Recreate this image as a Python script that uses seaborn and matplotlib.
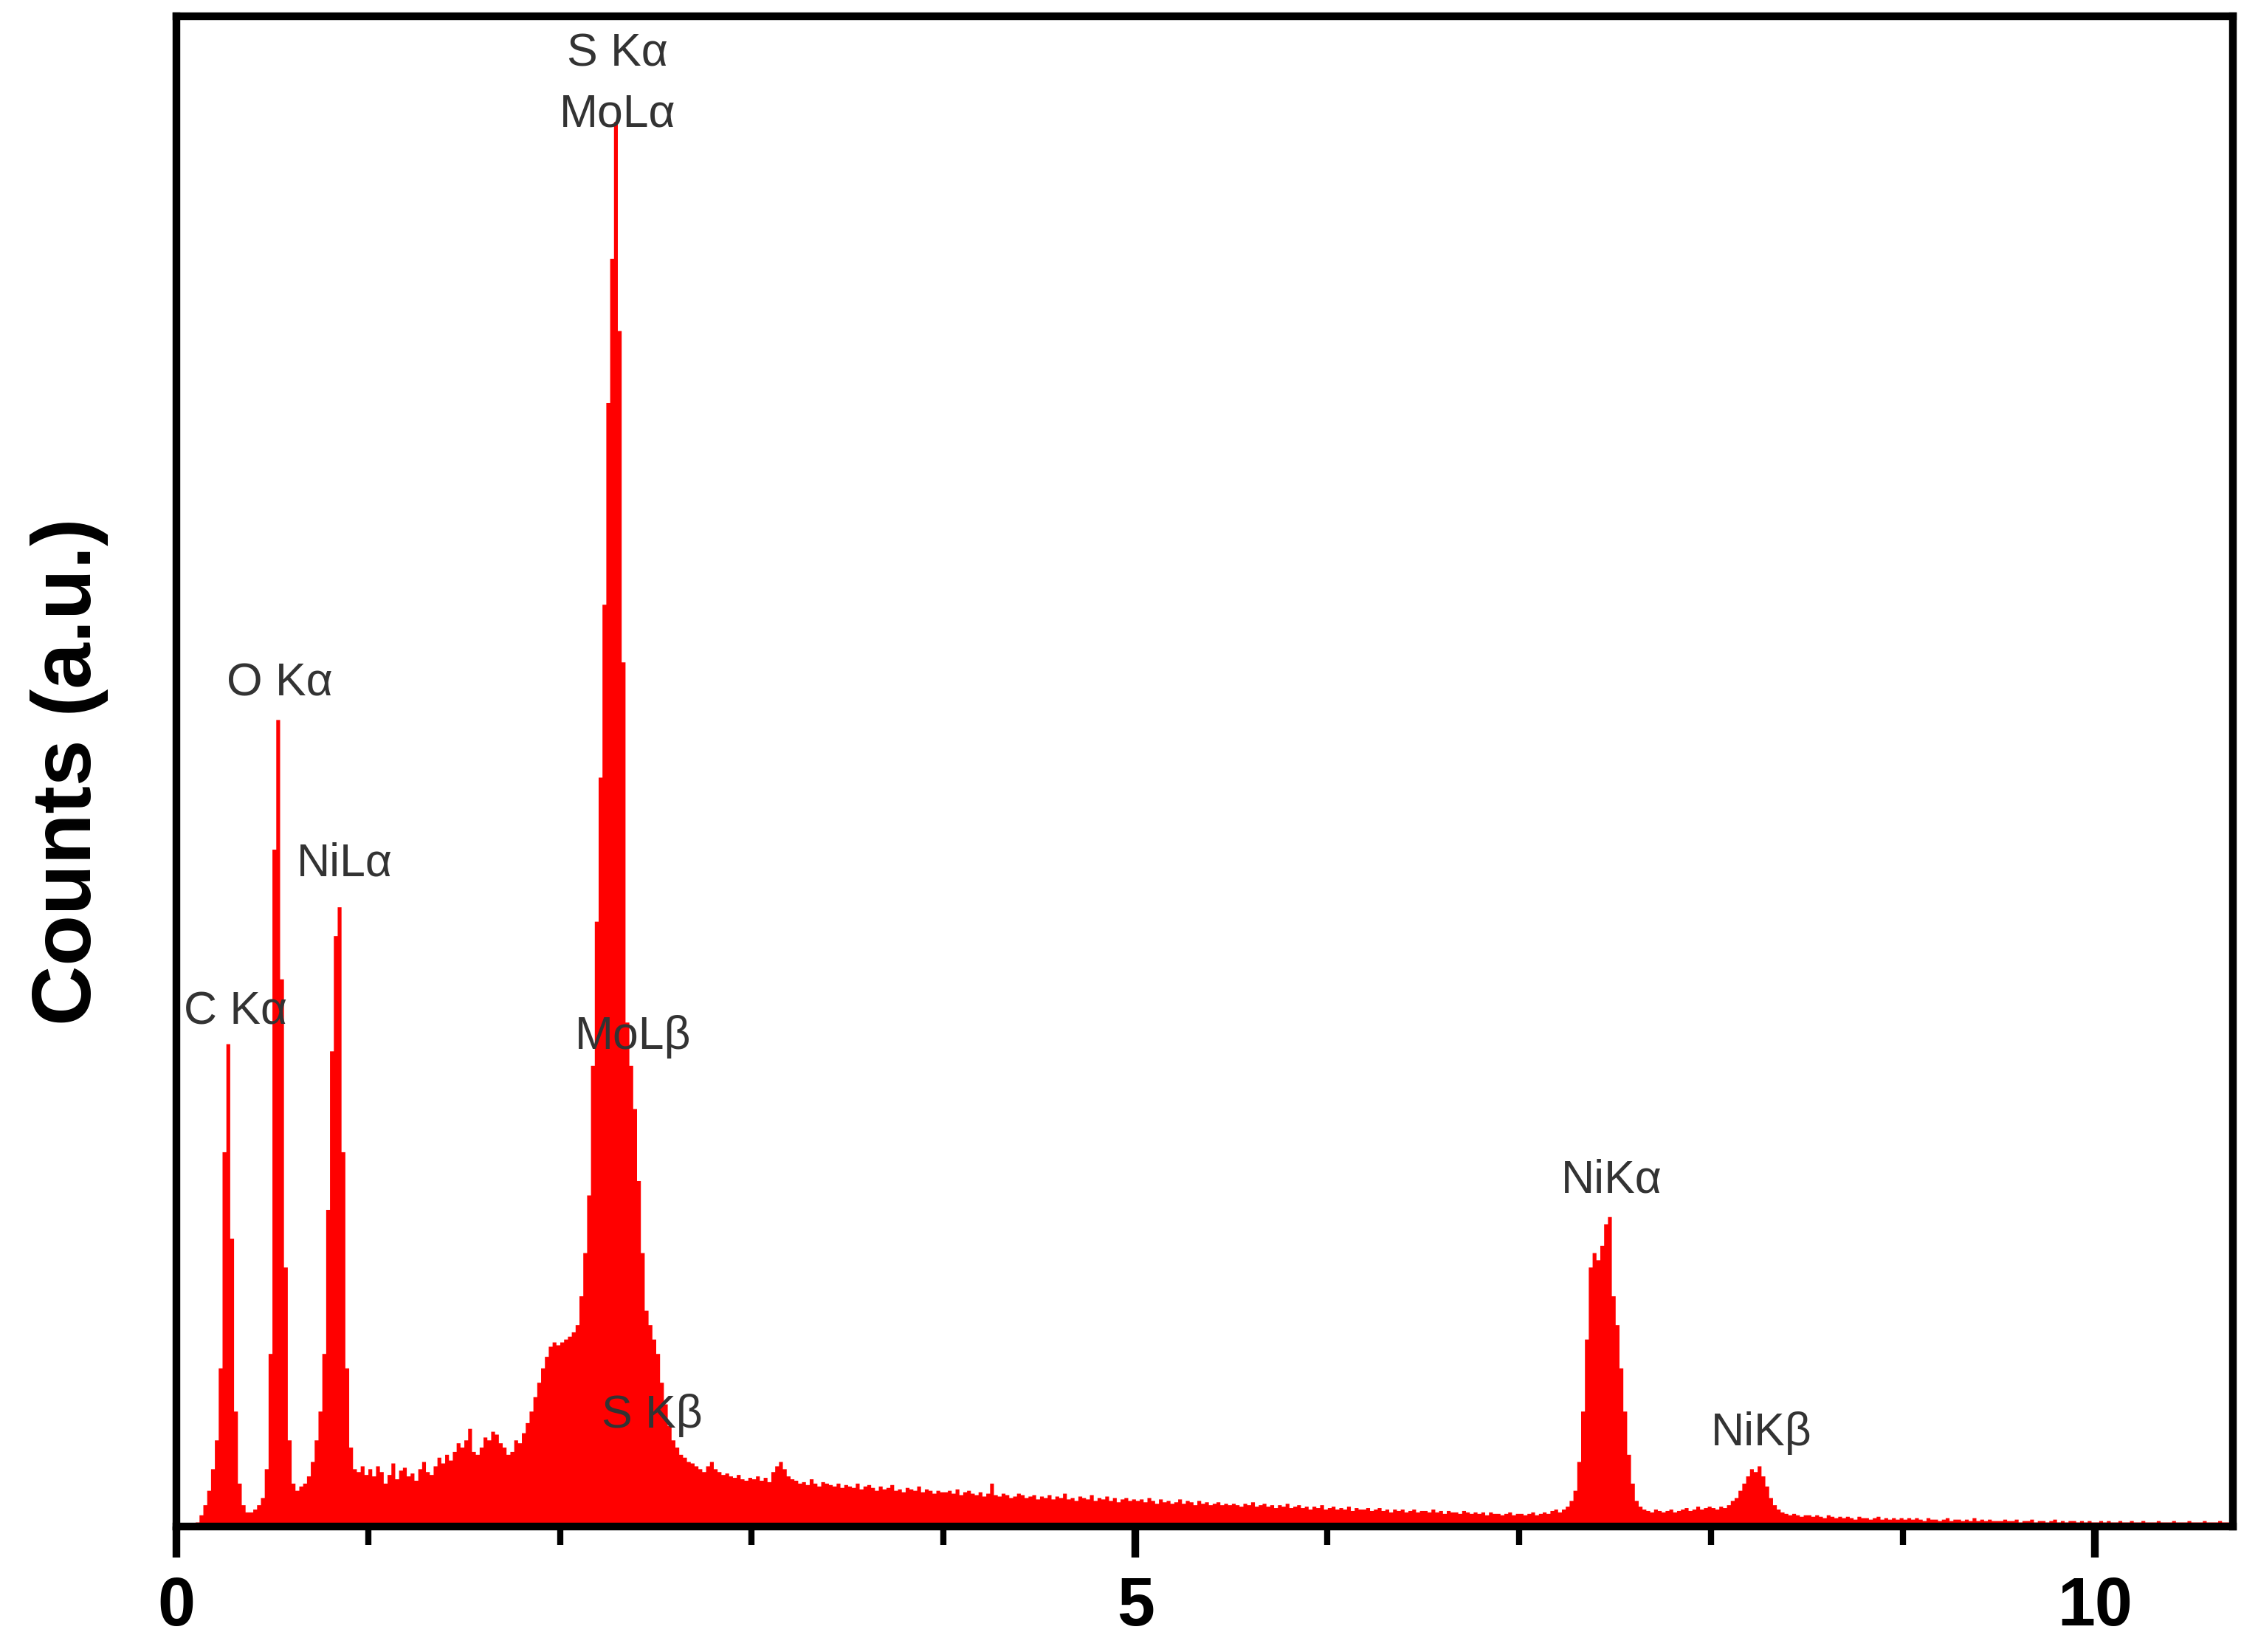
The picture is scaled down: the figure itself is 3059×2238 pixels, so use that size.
import matplotlib
matplotlib.use("Agg")
import matplotlib.pyplot as plt
import numpy as np
import pandas as pd
import seaborn as sns
from matplotlib.ticker import MultipleLocator

# EDS spectrum, counts per 0.02 keV channel (a.u.)
counts = [
    0, 0, 0, 0, 0, 3, 8, 15, 25, 40, 60, 110, 260, 335, 200, 80, 30, 15, 10, 10, 12, 15, 20, 40, 120,
    470, 560, 380, 180, 60, 30, 25, 28, 30, 35, 45, 60, 80, 120, 220, 330, 410, 430, 260, 110, 55, 40, 38, 42, 36,
    40, 35, 42, 38, 30, 36, 44, 33, 39, 41, 35, 37, 32, 40, 45, 38, 36, 42, 48, 44, 50, 46, 52, 58, 55,
    60, 68, 52, 50, 55, 62, 60, 66, 64, 58, 55, 50, 52, 60, 58, 65, 72, 80, 90, 100, 110, 118, 125, 128, 126,
    128, 130, 132, 135, 140, 160, 190, 230, 320, 420, 520, 640, 780, 880, 975, 830, 600, 350, 320, 290, 240, 190, 150, 140, 130,
    120, 100, 85, 70, 60, 55, 50, 48, 45, 44, 42, 40, 38, 42, 45, 40, 38, 36, 37, 35, 34, 36, 33, 32, 34,
    33, 35, 32, 34, 31, 38, 42, 45, 40, 35, 33, 32, 30, 31, 29, 33, 30, 28, 31, 30, 29, 28, 30, 27, 29,
    28, 27, 30, 26, 28, 29, 27, 25, 28, 26, 27, 29, 25, 26, 24, 27, 26, 25, 28, 24, 26, 25, 23, 25, 24,
    24, 25, 23, 26, 22, 24, 25, 23, 22, 24, 21, 23, 30, 22, 21, 23, 22, 20, 21, 23, 22, 20, 21, 22, 19,
    21, 20, 22, 19, 21, 20, 23, 19, 20, 18, 21, 20, 19, 22, 18, 20, 19, 21, 18, 20, 17, 19, 20, 18, 19,
    18, 19, 17, 20, 18, 16, 19, 17, 18, 16, 17, 19, 16, 18, 17, 15, 18, 16, 17, 15, 16, 17, 15, 16, 15,
    16, 15, 14, 16, 15, 17, 14, 15, 16, 14, 15, 13, 15, 14, 16, 13, 14, 15, 13, 14, 12, 14, 13, 15, 12,
    13, 14, 12, 13, 12, 14, 11, 13, 12, 12, 13, 11, 12, 13, 11, 12, 10, 12, 11, 12, 10, 11, 12, 10, 11,
    11, 10, 12, 10, 11, 9, 11, 10, 10, 9, 11, 10, 9, 10, 9, 10, 8, 10, 9, 9, 8, 9, 10, 8, 9,
    9, 8, 9, 10, 8, 9, 10, 9, 11, 12, 10, 12, 14, 18, 25, 45, 80, 130, 180, 190, 185, 195, 210, 215, 160,
    140, 110, 80, 50, 30, 18, 14, 12, 11, 10, 12, 11, 10, 11, 12, 10, 11, 12, 13, 11, 12, 14, 12, 13, 14,
    13, 12, 14, 13, 15, 18, 20, 25, 30, 35, 40, 38, 42, 35, 28, 20, 15, 12, 10, 9, 8, 9, 8, 7, 8,
    8, 7, 8, 7, 6, 8, 7, 6, 7, 6, 7, 6, 5, 7, 6, 6, 5, 6, 7, 5, 6, 5, 6, 5, 6,
    5, 6, 5, 6, 5, 4, 6, 5, 5, 4, 5, 6, 4, 5, 5, 4, 5, 4, 6, 4, 5, 4, 5, 4, 4,
    4, 5, 4, 4, 5, 3, 4, 4, 5, 3, 4, 4, 3, 4, 5, 3, 4, 3, 4, 4, 3, 4, 3, 4, 3,
    3, 4, 3, 4, 3, 3, 4, 3, 3, 4, 3, 3, 4, 3, 3, 3, 4, 3, 3, 3, 4, 3, 3, 3, 4,
    3, 3, 3, 4, 3, 3, 3, 4, 3, 3, 3,
]
channel_width = 0.02
energy = np.arange(len(counts)) * channel_width + channel_width / 2
spectrum = pd.DataFrame({"energy": energy, "counts": counts})

peak_labels = ["C Kα", "O Kα", "NiLα", "S Kα", "MoLα", "MoLβ", "S Kβ", "NiKα", "NiKβ"]
label_x = [0.31, 0.54, 0.88, 2.30, 2.30, 2.38, 2.48, 7.48, 8.26]
label_y = [357, 585, 460, 1022, 980, 340, 77, 240, 65]

plt.rcParams["font.family"] = ["Liberation Sans", "DejaVu Sans"]

fig = plt.figure(figsize=(3059 / 300, 2238 / 300), dpi=300)
ax = fig.add_axes([0.078, 0.076, 0.911, 0.914])

sns.histplot(data=spectrum, x="energy", weights="counts", binwidth=channel_width,
             binrange=(0, len(counts) * channel_width), element="step", fill=True,
             color="#ff0000", alpha=1.0, linewidth=0, ax=ax)

for txt, x, y in zip(peak_labels, label_x, label_y):
    ax.text(x, y, txt, ha="center", va="center", fontsize=15, color="#333333")

ax.set_xlim(0, 10.72)
ax.set_ylim(0, 1048)
ax.set_yticks([])
ax.set_ylabel("Counts (a.u.)", fontsize=27, fontweight="bold", labelpad=22)
ax.set_xlabel("")
ax.xaxis.set_major_locator(MultipleLocator(5))
ax.xaxis.set_minor_locator(MultipleLocator(1))
ax.tick_params(axis="x", which="major", direction="out", length=10, width=2.5,
               labelsize=22, pad=6)
ax.tick_params(axis="x", which="minor", direction="out", length=6, width=2)
for lab in ax.get_xticklabels():
    lab.set_fontweight("bold")
for sp in ax.spines.values():
    sp.set_linewidth(2.5)
    sp.set_color("black")

fig.savefig("out.png", dpi=300)
